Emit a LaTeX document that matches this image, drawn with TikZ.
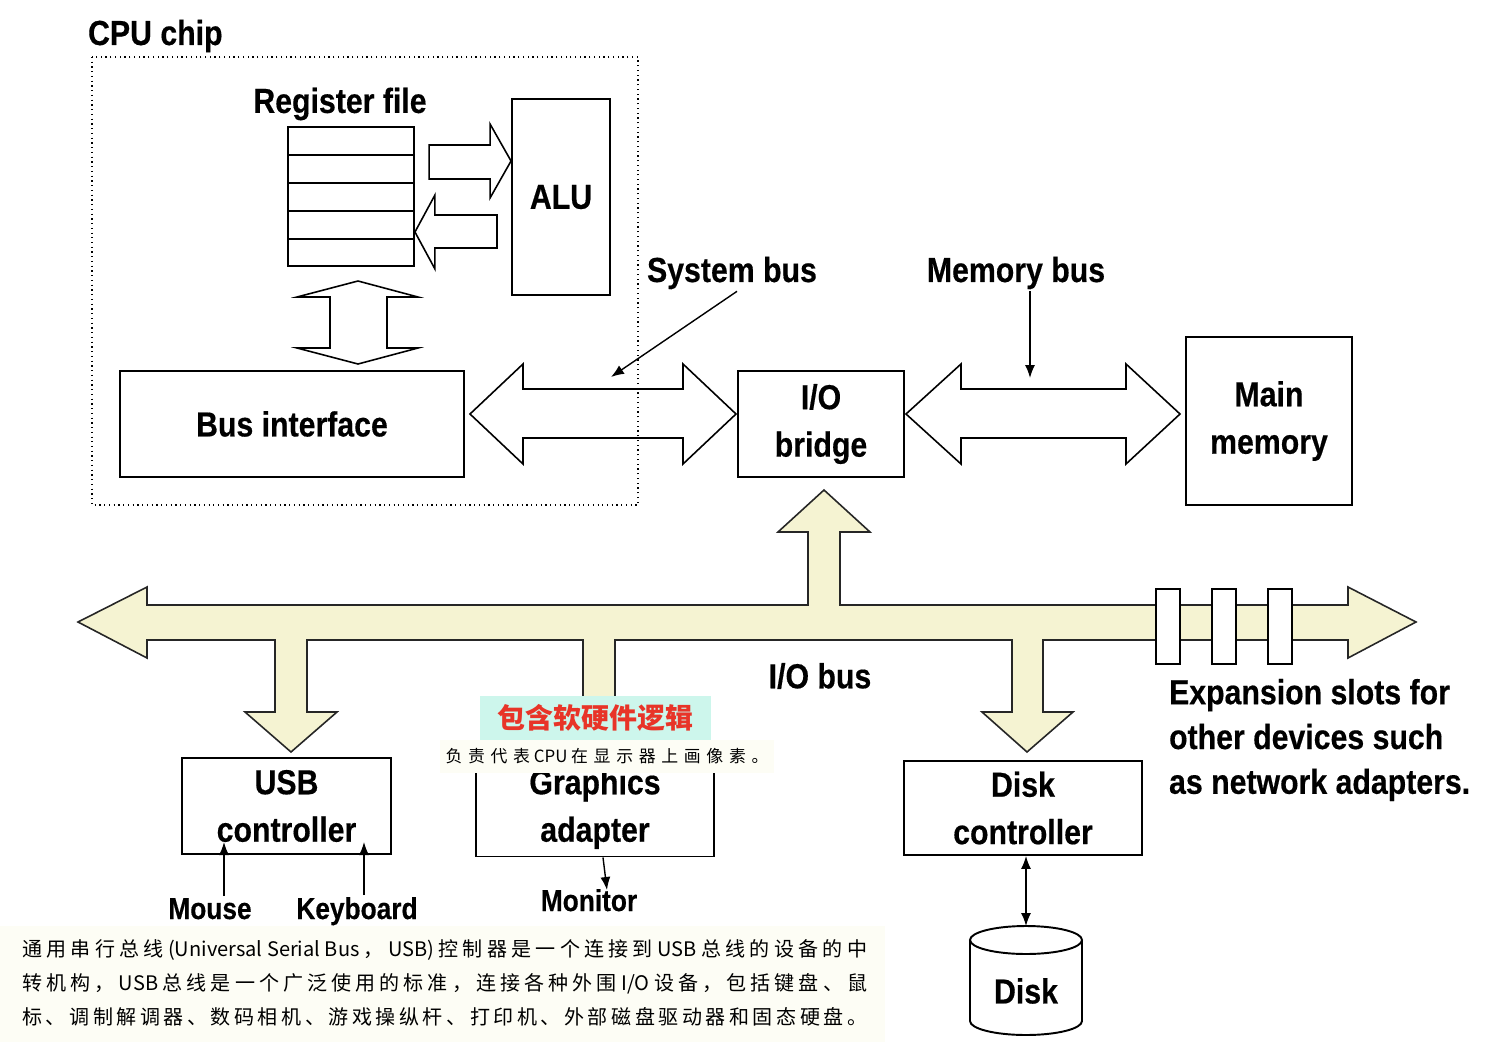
\documentclass[tikz,border=0pt]{standalone}
\usepackage{fontspec}
\newfontfamily\labelfont{Liberation Sans}[FakeStretch=0.87, BoldFeatures={FakeBold=0.4}]
\newfontfamily\cjkfont{Noto Sans CJK SC}
\usetikzlibrary{arrows.meta}
\definecolor{busfill}{RGB}{245,243,210}
\definecolor{hintcyan}{RGB}{205,246,236}
\definecolor{hintred}{RGB}{232,52,40}
\definecolor{notecream}{RGB}{253,253,245}
\newcommand{\lblbig}{\labelfont\bfseries\fontsize{19.8}{27}\selectfont}
\newcommand{\lblsmall}{\labelfont\bfseries\fontsize{17.2}{21}\selectfont}
\newcommand{\lowline}[1]{\raisebox{-0.06cm}{#1}}
% spread glue between CJK characters
\newcount\cjkcnt
\cjkcnt="4E00
\loop \XeTeXcharclass\cjkcnt=1 \advance\cjkcnt by 1 \ifnum\cjkcnt<"9FFF \repeat
\XeTeXcharclass"3001=1 \XeTeXcharclass"3002=1 \XeTeXcharclass"FF0C=1
\XeTeXinterchartokenstate=1
\newcommand{\cjkgap}{\hskip 0pt plus 1fil\relax}
\XeTeXinterchartoks 1 1 = {\cjkgap}
\XeTeXinterchartoks 1 0 = {\cjkgap}
\XeTeXinterchartoks 0 1 = {\cjkgap}

\begin{document}
\begin{tikzpicture}[x=0.02cm, y=-0.02cm,
  box/.style={draw, line width=1.1pt, align=center, font=\lblbig, inner sep=0pt},
  hollow/.style={draw, fill=white, line width=0.9pt},
  bus/.style={draw=black!85, fill=busfill, line width=0.9pt},
  slot/.style={draw, fill=white, line width=0.9pt},
  ptr/.style={-{Latex[length=2.6mm,width=2mm]}, line width=0.8pt},
  lbl/.style={font=\lblbig, inner sep=1pt},
  devlbl/.style={font=\lblsmall, inner sep=1pt, anchor=base}]
\useasboundingbox (0,0) rectangle (1498,1048);

% Note background
\fill[notecream] (0,926) rectangle (885,1042);

% CPU chip
\node[lbl, anchor=west] (cpulbl) at (86,36) {CPU chip};
\node[lbl] (reglbl) at (340,104) {Register file};
\node[draw, line width=1.1pt, minimum width=2.52cm, minimum height=2.78cm, inner sep=0pt] (regfile) at (351,196.5) {};
\foreach \y in {155,183,211,239}
  \draw[line width=1.1pt] (288,\y) -- (414,\y);
\node[box, minimum width=1.96cm, minimum height=3.92cm] (alu) at (561,197) {ALU};
\node[box, minimum width=6.88cm, minimum height=2.12cm] (busif) at (292,424) {Bus interface};

% Register file <-> ALU
\draw[hollow] (alu.west |- 0,161) -- ++(-21,-37) -- ++(0,21) -- ++(-61,0) -- ++(0,34)
  -- ++(61,0) -- ++(0,19) -- cycle;
\draw[hollow] (regfile.east |- 0,232) -- ++(20,-37) -- ++(0,20) -- ++(62,0) -- ++(0,33)
  -- ++(-62,0) -- ++(0,21) -- cycle;

% Register file <-> bus interface
\coordinate (regtip) at (358,281);
\draw[hollow] (regtip) -- ++(60,16) -- ++(-31,0) -- ++(0,51) -- ++(31,0) -- ++(-60,16)
  -- ++(-61,-16) -- ++(33,0) -- ++(0,-51) -- ++(-33,0) -- cycle;

% Bridge and memory
\node[box, minimum width=3.32cm, minimum height=2.12cm] (bridge) at (821,424) {\lowline{I/O}\\\lowline{bridge}};
\node[box, minimum width=3.32cm, minimum height=3.36cm] (mem) at (1269,421) {\lowline{Main}\\\lowline{memory}};

% System bus and memory bus
\draw[hollow] (470,414) -- (523,364) -- (523,389) -- (683,389) -- (683,364) -- (736,414)
  -- (683,464) -- (683,438) -- (523,438) -- (523,464) -- cycle;
\draw[hollow] (906,414) -- (961,364) -- (961,389) -- (1126,389) -- (1126,364) -- (1180,414)
  -- (1126,464) -- (1126,438) -- (961,438) -- (961,464) -- cycle;
\draw[dotted, line width=0.7pt] (92,57) rectangle (638,505);

\node[lbl] (sysbus) at (732,273) {System bus};
\node[lbl] (membus) at (1016,273) {Memory bus};
\coordinate (sysbusend) at (611,377);
\coordinate (membusend) at (1030,378);
\draw[ptr] ([xshift=0.1cm]sysbus.south) -- (sysbusend);
\draw[ptr] (membusend |- membus.south) -- (membusend);

% I/O bus with its branches
\draw[bus] (78,622) -- (147,587) -- (147,605) -- (808,605) -- (808,532) -- (778,532)
  -- (824,490) -- (870,532) -- (840,532) -- (840,605) -- (1348,605) -- (1348,587)
  -- (1416,622) -- (1348,658) -- (1348,640) -- (1043,640) -- (1043,712) -- (1073,712)
  -- (1027,752) -- (982,712) -- (1012,712) -- (1012,640) -- (615,640) -- (615,732)
  -- (645,732) -- (599,772) -- (553,732) -- (583,732) -- (583,640) -- (307,640)
  -- (307,712) -- (337,712) -- (291,752) -- (245,712) -- (275,712) -- (275,640)
  -- (147,640) -- (147,658) -- cycle;
\foreach \x in {1156,1212,1268}
  \draw[slot] (\x,589) rectangle ++(24,75);
\node[lbl] (iobus) at (820,676) {I/O bus};

% Devices
\node[box, minimum width=4.18cm, minimum height=1.92cm] (usb) at (286.5,806) {USB\\controller};
\node[box, minimum width=4.76cm, minimum height=1.9cm] (gfx) at (595,809) {Graphics\\adapter};
\node[box, minimum width=4.76cm, minimum height=1.88cm] (diskctl) at (1023,808) {Disk\\controller};

\node[devlbl] (mouse) at (210,919) {Mouse};
\node[devlbl] (kbd) at (357,919) {Keyboard};
\node[devlbl] (monitor) at (589,911) {Monitor};
\coordinate (mouseend) at (224,842);
\coordinate (kbdend) at (364,842);
\coordinate (monend) at (607,890);
\draw[ptr] (mouseend |- mouse.north) -- (mouseend);
\draw[ptr] (kbdend |- kbd.north) -- (kbdend);
\draw[ptr] ([xshift=0.16cm]gfx.south) -- (monend);

% Disk
\draw[line width=1.1pt, fill=white] (970,940) -- (970,1021)
  arc[start angle=180, end angle=0, x radius=56, y radius=14] -- (1082,940);
\draw[line width=1.1pt] (1026,940) ellipse[x radius=56, y radius=14];
\node[lbl] (disk) at (1026,991) {Disk};
\coordinate (disktop) at (1026,926);
\draw[{Latex[length=2.6mm,width=2mm]}-{Latex[length=2.6mm,width=2mm]}, line width=0.8pt]
  (disktop |- diskctl.south) -- (disktop);

% Expansion slots
\node[lbl, anchor=west, align=left, font=\labelfont\bfseries\fontsize{19.8}{25.5}\selectfont]
  (explbl) at (1167,740) {Expansion slots for\\other devices such\\as network adapters.};

% Notes
\node[fill=hintcyan, text=hintred, minimum width=4.62cm, minimum height=0.88cm, inner sep=0pt,
  font=\cjkfont\bfseries\fontsize{15.9}{18}\selectfont] (hint) at (595.5,718) {包含软硬件逻辑};
\node[fill=notecream, minimum width=6.7cm, minimum height=0.66cm, inner sep=0pt,
  font=\cjkfont\fontsize{9.6}{11}\selectfont] (gfxnote) at (607,756.5)
  {\makebox[6.46cm][s]{负责代表 CPU 在显示器上画像素。}};
\node[anchor=west, inner sep=0pt, font=\cjkfont\fontsize{11.4}{14}\selectfont] (note1) at (22,950)
  {\makebox[16.9cm][s]{通用串行总线(Universal Serial Bus，USB)控制器是一个连接到 USB 总线的设备的中}};
\node[anchor=west, inner sep=0pt, font=\cjkfont\fontsize{11.4}{14}\selectfont] (note2) at (22,984)
  {\makebox[16.9cm][s]{转机构，USB 总线是一个广泛使用的标准，连接各种外围 I/O 设备，包括键盘、鼠}};
\node[anchor=west, inner sep=0pt, font=\cjkfont\fontsize{11.4}{14}\selectfont] (note3) at (22,1017)
  {\makebox[16.9cm][s]{标、调制解调器、数码相机、游戏操纵杆、打印机、外部磁盘驱动器和固态硬盘。}};
\end{tikzpicture}
\end{document}
